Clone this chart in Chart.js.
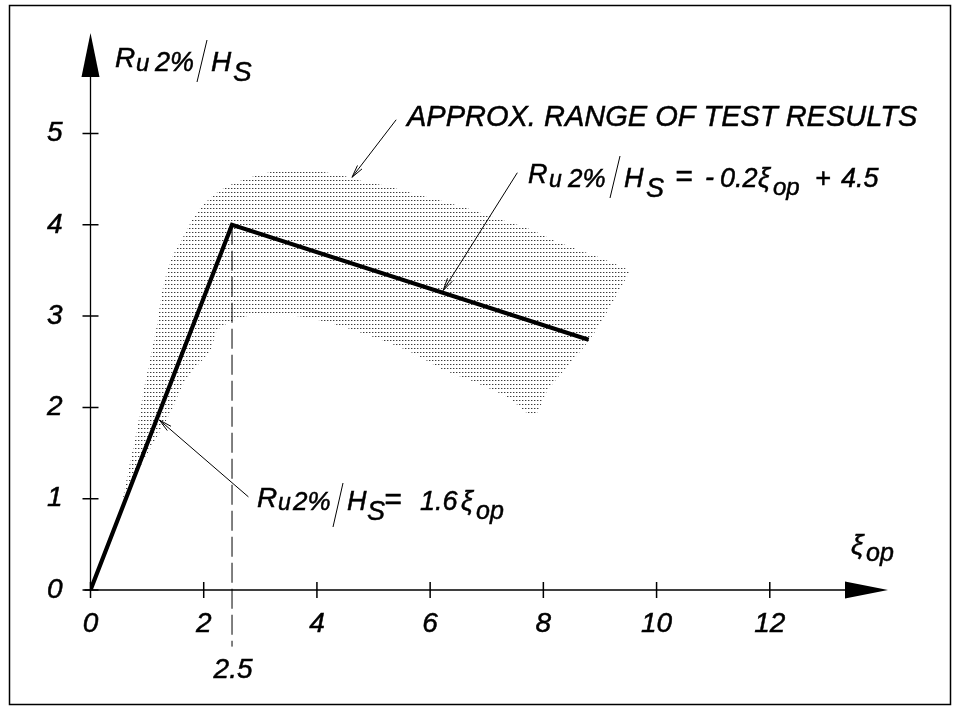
<!DOCTYPE html>
<html>
<head>
<meta charset="utf-8">
<script src="https://cdn.jsdelivr.net/npm/chart.js@4"></script>
<style>
  html, body { margin: 0; padding: 0; background: #fff; }
  #wrap { width: 961px; height: 710px; }
</style>
</head>
<body>
<div id="wrap"><canvas id="c" width="961" height="710"></canvas></div>
<script>
// ---------- data ----------
const xTicks = [0, 2, 4, 6, 8, 10, 12];
const yTicks = [0, 1, 2, 3, 4, 5];

// design line R_u2%/H_s
const lineX = [0, 2.5, 8.8];
const lineY = [0, 4.0, 2.74];

// transition marker
const markX = [2.5, 2.5];
const markY = [4.0, -0.62];
const markLabel = '2.5';

// approx. range of test results (upper and lower envelope)
const upperX = [0.57, 0.70, 0.83, 0.94, 1.06, 1.18, 1.27, 1.42, 1.63, 1.91, 2.30, 2.83, 3.40, 3.90, 4.50, 4.90, 5.20, 5.72, 6.50, 7.13, 7.73, 8.30, 9.00, 9.54];
const upperY = [1.00, 1.40, 1.78, 2.19, 2.55, 2.92, 3.28, 3.61, 3.86, 4.16, 4.38, 4.52, 4.60, 4.60, 4.53, 4.46, 4.43, 4.34, 4.21, 4.08, 3.96, 3.80, 3.64, 3.50];
const lowerX = [0.57, 0.94, 1.41, 1.68, 2.12, 2.25, 2.70, 3.20, 3.77, 4.37, 4.96, 5.30, 5.71, 6.24, 6.70, 7.37, 7.83, 8.08, 8.85, 9.54];
const lowerY = [1.00, 1.42, 1.94, 2.30, 2.63, 2.85, 2.99, 3.02, 2.99, 2.90, 2.78, 2.70, 2.59, 2.41, 2.30, 2.11, 1.91, 2.19, 2.77, 3.50];

const zip = (xs, ys) => xs.map((x, i) => ({ x: x, y: ys[i] }));

// ---------- styles ----------
const FAM = '"Liberation Sans", Arial, Helvetica, sans-serif';
const TEXT_STROKE = 0.5;

function makePattern() {
  const t = document.createElement('canvas');
  t.width = 3; t.height = 4;
  const g = t.getContext('2d');
  g.fillStyle = '#3c3c3c';
  g.fillRect(0, 0, 1, 1);
  g.fillStyle = '#b4b4b4';
  g.fillRect(1, 0, 1, 1);
  return document.getElementById('c').getContext('2d').createPattern(t, 'repeat');
}
const dots = makePattern();

// ---------- annotations (data coordinates) ----------
const leaders = [
  { from: [5.40, 5.15], to: [4.62, 4.52] },
  { from: [7.54, 4.57], to: [6.23, 3.28] },
  { from: [2.79, 1.02], to: [1.22, 1.86] }
];

function txt(ctx, t, x, y) {
  ctx.fillText(t, x, y);
  ctx.lineWidth = TEXT_STROKE;
  ctx.strokeText(t, x, y);
}

function rich(ctx, ox, oy, parts) {
  ctx.textAlign = 'left';
  ctx.textBaseline = 'alphabetic';
  parts.forEach(p => {
    if (p.slash) {
      ctx.beginPath();
      ctx.lineWidth = 1;
      ctx.moveTo(ox + p.slash[0], oy + p.slash[1]);
      ctx.lineTo(ox + p.slash[2], oy + p.slash[3]);
      ctx.stroke();
      return;
    }
    ctx.font = 'italic ' + p.s + 'px ' + FAM;
    txt(ctx, p.t, ox + p.x, oy + (p.dy || 0));
  });
}

function ruHs(size) {
  return [
    { t: 'R', x: 0, dy: 0, s: size },
    { t: 'u', x: 21, dy: 4, s: size - 4 },
    { t: '2%', x: 40, dy: 4, s: size - 1 },
    { slash: [82, 15, 92, -27] },
    { t: 'H', x: 96, dy: 4, s: size },
    { t: 'S', x: 118, dy: 14, s: size }
  ];
}

const overlay = {
  id: 'overlay',
  beforeDraw(chart) {
    const ctx = chart.ctx;
    ctx.save();
    ctx.fillStyle = '#fff';
    ctx.fillRect(0, 0, chart.width, chart.height);
    ctx.restore();
  },
  afterDraw(chart) {
    const ctx = chart.ctx;
    const xs = chart.scales.x, ys = chart.scales.y;
    const px = v => xs.getPixelForValue(v);
    const py = v => ys.getPixelForValue(v);
    const x0 = px(0), y0 = py(0);
    ctx.save();
    ctx.strokeStyle = '#000';
    ctx.fillStyle = '#000';

    // frame
    ctx.lineWidth = 1.5;
    ctx.strokeRect(9.5, 5.5, 941, 699);

    // axes
    ctx.lineWidth = 1.3;
    ctx.beginPath();
    ctx.moveTo(x0, y0); ctx.lineTo(x0, 75);
    ctx.moveTo(x0 - 6, y0); ctx.lineTo(846, y0);
    ctx.stroke();
    // arrowheads
    ctx.beginPath();
    ctx.moveTo(x0, 33); ctx.lineTo(x0 - 9, 77); ctx.lineTo(x0 + 9, 77); ctx.closePath(); ctx.fill();
    ctx.beginPath();
    ctx.moveTo(888, y0); ctx.lineTo(845, y0 - 8.5); ctx.lineTo(845, y0 + 8.5); ctx.closePath(); ctx.fill();

    // crossing tick marks
    ctx.lineWidth = 1.5;
    ctx.beginPath();
    xTicks.forEach(v => { const p = px(v); ctx.moveTo(p, y0 - 8); ctx.lineTo(p, y0 + 8); });
    yTicks.forEach(v => { const p = py(v); ctx.moveTo(x0 - 8, p); ctx.lineTo(x0 + 8, p); });
    ctx.stroke();

    // marker label
    ctx.font = 'italic 28px ' + FAM;
    ctx.textAlign = 'center';
    ctx.textBaseline = 'alphabetic';
    txt(ctx, markLabel, px(markX[0]) + 1, 678);

    // leaders with open arrowheads
    leaders.forEach(l => {
      const ax = px(l.from[0]), ay = py(l.from[1]);
      const bx = px(l.to[0]), by = py(l.to[1]);
      ctx.lineWidth = 1;
      ctx.beginPath();
      ctx.moveTo(ax, ay); ctx.lineTo(bx, by);
      const ang = Math.atan2(ay - by, ax - bx);
      const L = 13, w = 0.22;
      ctx.moveTo(bx + L * Math.cos(ang + w), by + L * Math.sin(ang + w));
      ctx.lineTo(bx, by);
      ctx.lineTo(bx + L * Math.cos(ang - w), by + L * Math.sin(ang - w));
      ctx.stroke();
    });

    // texts
    ctx.fillStyle = '#000';
    // y axis title
    rich(ctx, 115, 67, ruHs(28));
    // x axis title
    ctx.textAlign = 'left';
    ctx.font = 'italic 28px ' + FAM;
    txt(ctx, '\u03BE', 851, 554);
    ctx.font = 'italic 25px ' + FAM;
    txt(ctx, 'op', 866, 561);

    // range label
    ctx.font = 'italic 29px ' + FAM;
    txt(ctx, 'APPROX. RANGE OF TEST RESULTS', 407, 126);

    // upper equation
    rich(ctx, 528, 183, ruHs(27).concat([
      { t: '=', x: 147, dy: 3, s: 30 },
      { t: '-', x: 177, dy: 3, s: 27 },
      { t: '0.2', x: 192, dy: 4, s: 27 },
      { t: '\u03BE', x: 230, dy: 4, s: 27 },
      { t: 'op', x: 245, dy: 12, s: 24 },
      { t: '+', x: 287, dy: 4, s: 27 },
      { t: '4.5', x: 313, dy: 4, s: 27 }
    ]));

    // lower equation
    rich(ctx, 257, 507, [
      { t: 'R', x: 0, dy: 0, s: 28 },
      { t: 'u', x: 21, dy: 3, s: 23 },
      { t: '2%', x: 36, dy: 3, s: 26 },
      { slash: [76, 20, 86, -24] },
      { t: 'H', x: 90, dy: 3, s: 27 },
      { t: 'S', x: 110, dy: 13, s: 27 },
      { t: '=', x: 127, dy: 2, s: 30 },
      { t: '1.6', x: 163, dy: 3, s: 27 },
      { t: '\u03BE', x: 204, dy: 3, s: 27 },
      { t: 'op', x: 219, dy: 12, s: 25 }
    ]);
    ctx.restore();
  }
};

const tickFont = { family: FAM, size: 28, style: 'italic' };

new Chart(document.getElementById('c'), {
  type: 'line',
  data: {
    datasets: [
      { // upper envelope, filled down to lower envelope
        data: zip(upperX, upperY), borderWidth: 0, borderColor: 'rgba(0,0,0,0)',
        backgroundColor: dots, fill: '+1', pointRadius: 0, tension: 0.3, order: 3
      },
      { // lower envelope
        data: zip(lowerX, lowerY), borderWidth: 0, borderColor: 'rgba(0,0,0,0)',
        backgroundColor: dots, fill: false, pointRadius: 0, tension: 0.3, order: 3
      },
      { // transition marker
        data: zip(markX, markY), borderWidth: 1, borderColor: '#000', borderDash: [20, 6],
        fill: false, pointRadius: 0, clip: false, order: 2
      },
      { // design line
        data: zip(lineX, lineY), borderWidth: 4.2, borderColor: '#000',
        fill: false, pointRadius: 0, borderJoinStyle: 'miter', borderCapStyle: 'butt', order: 1
      }
    ]
  },
  options: {
    responsive: false,
    animation: false,
    events: [],
    layout: { padding: { top: 33, right: 78, left: 0, bottom: 0 } },
    plugins: { legend: { display: false }, tooltip: { enabled: false } },
    scales: {
      x: {
        type: 'linear', min: 0, max: 14,
        afterBuildTicks: s => { s.ticks = xTicks.map(v => ({ value: v })); },
        afterFit: s => { s.height = 120; s.paddingLeft = 0; s.paddingRight = 0; },
        grid: { display: false, drawTicks: false },
        border: { display: false },
        ticks: { padding: 17, font: tickFont, color: '#000', maxRotation: 0, autoSkip: false,
                 textStrokeColor: '#000', textStrokeWidth: TEXT_STROKE }
      },
      y: {
        type: 'linear', min: 0, max: 6.1,
        afterBuildTicks: s => { s.ticks = yTicks.map(v => ({ value: v })); },
        afterFit: s => { s.width = 90.5; s.paddingTop = 0; s.paddingBottom = 0; },
        grid: { display: false, drawTicks: false },
        border: { display: false },
        ticks: { padding: 28, font: tickFont, color: '#000', autoSkip: false,
                 textStrokeColor: '#000', textStrokeWidth: TEXT_STROKE }
      }
    }
  },
  plugins: [overlay]
});
</script>
</body>
</html>
